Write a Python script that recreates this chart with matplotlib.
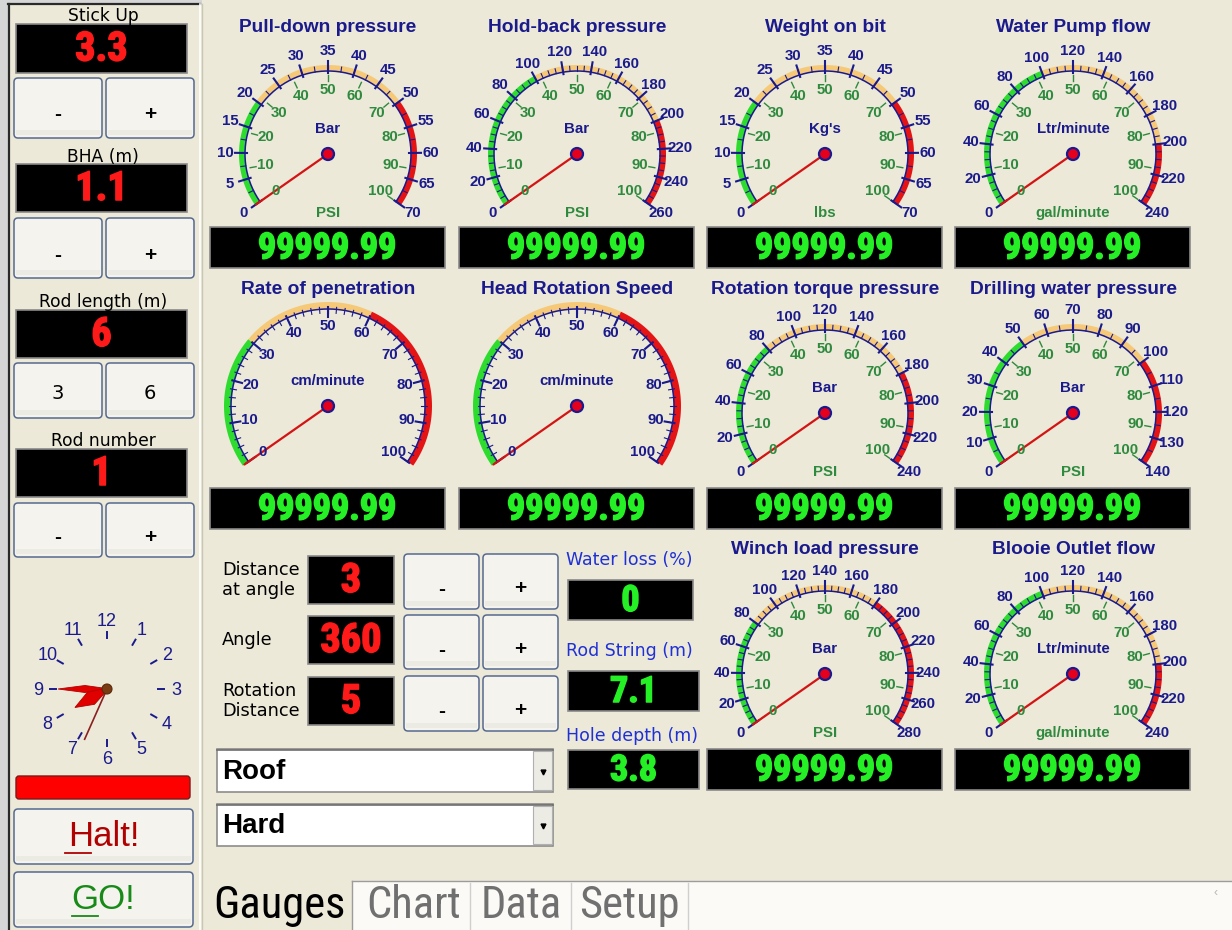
import numpy as np
import matplotlib
matplotlib.use("Agg")
import matplotlib.pyplot as plt
import matplotlib.patheffects as pe
from matplotlib.patches import Rectangle, FancyBboxPatch, Polygon, Circle
from matplotlib import font_manager

# ------------------------------------------------------------------ data
gauge_titles = ["Pull-down pressure", "Hold-back pressure", "Weight on bit", "Water Pump flow",
                "Rate of penetration", "Head Rotation Speed", "Rotation torque pressure",
                "Drilling water pressure", "Winch load pressure", "Blooie Outlet flow"]
gauge_outer_max = [70, 260, 70, 240, 100, 100, 240, 140, 280, 240]
gauge_label_step = [5, 20, 5, 20, 10, 10, 20, 10, 20, 20]
gauge_minor_step = [2.5, 5, 2.5, 5, 2, 2, 5, 5, 5, 5]
gauge_inner_max = [100, 100, 100, 100, 0, 0, 100, 100, 100, 100]
gauge_inner_step = [10, 10, 10, 10, 0, 0, 10, 10, 10, 10]
gauge_outer_unit = ["Bar", "Bar", "Kg's", "Ltr/minute", "cm/minute", "cm/minute",
                    "Bar", "Bar", "Bar", "Ltr/minute"]
gauge_inner_unit = ["PSI", "PSI", "lbs", "gal/minute", "", "", "PSI", "PSI", "PSI", "gal/minute"]
gauge_green_end = [20, 100, 20, 100, 30, 30, 80, 50, 80, 100]
gauge_orange_end = [50, 200, 50, 200, 60, 60, 180, 100, 180, 200]
gauge_needle = [0, 0, 0, 0, 0, 0, 0, 0, 0, 0]
gauge_readout = ["99999.99"] * 10

panel_labels = ["Stick Up", "BHA (m)", "Rod length (m)", "Rod number"]
panel_values = ["3.3", "1.1", "6", "1"]
panel_buttons = [["-", "+"], ["-", "+"], ["3", "6"], ["-", "+"]]

setting_labels = ["Distance\nat angle", "Angle", "Rotation\nDistance"]
setting_values = ["3", "360", "5"]

status_labels = ["Water loss (%)", "Rod String (m)", "Hole depth (m)"]
status_values = ["0", "7.1", "3.8"]

dropdown_values = ["Roof", "Hard"]
tab_labels = ["Gauges", "Chart", "Data", "Setup"]

clock_numerals = list(range(1, 13))
clock_hour_hand = 8.0
clock_minute = 45
clock_second = 34

# ------------------------------------------------------------------ style
W, H = 1232, 930
BG = "#ECE9D8"
NAVY = "#1A1A8C"
GLBL = "#2E8A3E"
BAND_G = "#2EDC2E"
BAND_O = "#F6C978"
BAND_R = "#E51414"
READ_G = "#25F025"
READ_R = "#FF1A1A"
BLUE = "#1F30D6"

avail = {f.name for f in font_manager.fontManager.ttflist}


def pick(*names):
    for n in names:
        if n in avail:
            return n
    return "DejaVu Sans"


SANS = pick("Liberation Sans", "Arial", "DejaVu Sans")
NARROW = pick("Liberation Sans Narrow", "Roboto Condensed", "DejaVu Sans Condensed",
              "Open Sans Condensed", "Liberation Sans")
UI = "DejaVu Sans"
plt.rcParams["font.family"] = [SANS, "DejaVu Sans"]

fig = plt.figure(figsize=(W / 100, H / 100), dpi=100)
fig.patch.set_facecolor(BG)
ax = fig.add_axes([0, 0, 1, 1])
ax.set_xlim(0, W)
ax.set_ylim(H, 0)
ax.axis("off")
ax.set_facecolor(BG)


def T(x, y, s, size, color="black", weight="normal", ha="center", va="center", family=None, **kw):
    fam = family if family else [SANS, "DejaVu Sans"]
    ax.text(x, y, s, fontsize=size, color=color, fontweight=weight, ha=ha, va=va,
            family=fam, **kw)


def readout(x0, y0, x1, y1, s, color, size):
    ax.add_patch(Rectangle((x0, y0), x1 - x0, y1 - y0, fc="black", ec="#8A8A8A", lw=1.2))
    T((x0 + x1) / 2, (y0 + y1) / 2 + 1, s, size, color, "bold", family=[NARROW, "DejaVu Sans"],
      path_effects=[pe.withStroke(linewidth=1.1, foreground=color)])


def button(x0, y0, x1, y1, s, size=15, color="black", weight="bold", dy=6, family=None):
    ax.add_patch(FancyBboxPatch((x0 + 2, y0 + 2), x1 - x0 - 4, y1 - y0 - 4,
                                boxstyle="round,pad=2,rounding_size=4",
                                fc="#F4F3EE", ec="#56698F", lw=1.1))
    ax.add_patch(Rectangle((x0 + 2, y1 - 8), x1 - x0 - 4, 5, fc="#EBEAE3", ec="none"))
    T((x0 + x1) / 2, (y0 + y1) / 2 + dy, s, size, color, weight, family=family)


# ------------------------------------------------------------------ frame
ax.add_patch(Rectangle((0, 0), 8, H, fc="#D6D6D6", ec="none"))
ax.add_patch(Rectangle((0, 0), 202, 4, fc="#D6D6D6", ec="none"))
ax.plot([8.5, 8.5], [4, H], color="#2A2A2A", lw=1.6)
ax.plot([8, 200], [4.5, 4.5], color="#2A2A2A", lw=1.6)
ax.plot([200, 200], [4, H], color="#FFFFFF", lw=1.2)
ax.plot([201.5, 201.5], [4, H], color="#C9C6B6", lw=1.0)

# ------------------------------------------------------------------ gauges
START, SWEEP = 215.0, 250.0
gauge_layout = [(328, 154, False), (577, 154, False), (825, 154, False), (1073, 154, False),
                (328, 406, True), (577, 406, True), (825, 413, False), (1073, 413, False),
                (825, 674, False), (1073, 674, False)]
title_y = [28, 28, 28, 28, 289, 289, 289, 289, 549, 549]
box_top = [227, 227, 227, 227, 488, 488, 488, 488, 749, 749]


def draw_gauge(i):
    cx, cy, big = gauge_layout[i]
    vmax = gauge_outer_max[i]
    R = 97 if big else 83
    bw = 7 if big else 6

    def pt(v, r, vm=vmax):
        a = np.radians(START - SWEEP * v / vm)
        return cx + r * np.cos(a), cy - r * np.sin(a)

    T(cx, title_y[i], gauge_titles[i], 13.8, NAVY, "bold")

    zones = [(0, gauge_green_end[i], BAND_G),
             (gauge_green_end[i], gauge_orange_end[i], BAND_O),
             (gauge_orange_end[i], vmax, BAND_R)]
    for v0, v1, col in zones:
        vs = np.linspace(v0, v1, 80)
        poly = [pt(v, R + bw) for v in vs] + [pt(v, R) for v in vs[::-1]]
        ax.add_patch(Polygon(poly, closed=True, fc=col, ec="none"))

    vs = np.linspace(0, vmax, 300)
    xs, ys = zip(*[pt(v, R) for v in vs])
    ax.plot(xs, ys, color=NAVY, lw=1.1)

    for v in np.arange(0, vmax + 1e-9, gauge_minor_step[i]):
        if big:
            p0, p1 = pt(v, R - 4), pt(v, R + 2)
        else:
            p0, p1 = pt(v, R), pt(v, R + 5)
        ax.plot([p0[0], p1[0]], [p0[1], p1[1]], color=NAVY, lw=0.8)
    for v in np.arange(0, vmax + 1e-9, gauge_label_step[i]):
        if big:
            p0, p1 = pt(v, R - 8), pt(v, R + 2)
            lp = pt(v, R - 17)
        else:
            p0, p1 = pt(v, R - 2), pt(v, R + 10)
            lp = pt(v, R + 20)
        ax.plot([p0[0], p1[0]], [p0[1], p1[1]], color=NAVY, lw=1.5)
        T(lp[0], lp[1], f"{v:g}", 10.8, NAVY, "bold")

    imax = gauge_inner_max[i]
    if imax:
        for v in np.arange(0, imax + 1e-9, gauge_inner_step[i]):
            p0, p1 = pt(v, R - 10, imax), pt(v, R - 4, imax)
            ax.plot([p0[0], p1[0]], [p0[1], p1[1]], color=GLBL, lw=1.0)
            lp = pt(v, R - 19, imax)
            T(lp[0], lp[1], f"{v:g}", 10.8, GLBL, "bold")
        T(cx, cy + 59, gauge_inner_unit[i], 10.8, GLBL, "bold")
    T(cx, cy - 25, gauge_outer_unit[i], 10.8, NAVY, "bold")

    tip = pt(gauge_needle[i], R + 5)
    ax.plot([cx, tip[0]], [cy, tip[1]], color="#D41414", lw=1.6, solid_capstyle="round")
    ax.add_patch(Circle((cx, cy), 6, fc="#E4001C", ec=NAVY, lw=1.6, zorder=5))

    y0 = box_top[i]
    readout(cx - 118, y0, cx + 117, y0 + 41, gauge_readout[i], READ_G, 26)


for i in range(len(gauge_titles)):
    draw_gauge(i)

# ------------------------------------------------------------------ left panel
lbl_y = [16, 157, 302, 441]
box_y = [(24, 73), (164, 212), (310, 358), (449, 497)]
btn_y = [(78, 138), (218, 278), (363, 418), (503, 557)]
for k in range(len(panel_labels)):
    T(103, lbl_y[k], panel_labels[k], 12.3, "black", family=[UI])
    readout(16, box_y[k][0], 187, box_y[k][1], panel_values[k], READ_R, 29)
    y0, y1 = btn_y[k]
    is_num = panel_buttons[k][0].isdigit()
    for j, (bx0, bx1) in enumerate([(14, 102), (106, 194)]):
        button(bx0, y0, bx1, y1, panel_buttons[k][j], 14 if is_num else 15,
               weight="normal" if is_num else "bold", dy=3 if is_num else 7,
               family=[UI] if is_num else None)

# clock
ccx, ccy = 107, 689
for n in clock_numerals:
    a = np.radians(n * 30)
    T(ccx + 69 * np.sin(a), ccy - 69 * np.cos(a) + 1, str(n), 13, NAVY)
    ax.plot([ccx + 51 * np.sin(a), ccx + 57 * np.sin(a)],
            [ccy - 51 * np.cos(a), ccy - 57 * np.cos(a)], color=NAVY, lw=1.4)


def hand(angle_deg, length, width, frac):
    a = np.radians(angle_deg)
    d = np.array([np.sin(a), -np.cos(a)])
    p = np.array([np.cos(a), np.sin(a)])
    c = np.array([ccx, ccy])
    pts = [c + length * d, c + frac * length * d + width * p, c - 3 * d,
           c + frac * length * d - width * p]
    ax.add_patch(Polygon(pts, closed=True, fc="#E00000", ec="#B00000", lw=0.6, zorder=4))


hand(clock_minute * 6, 49, 3.5, 0.45)
hand(clock_hour_hand * 30, 37, 7, 0.5)
sa = np.radians(clock_second * 6)
ax.plot([ccx, ccx + 55 * np.sin(sa)], [ccy, ccy - 55 * np.cos(sa)], color="#8A2020", lw=1.2, zorder=5)
ax.add_patch(Circle((ccx, ccy), 5, fc="#7A3A12", ec="#5A2A0A", lw=0.8, zorder=6))

ax.add_patch(FancyBboxPatch((17, 777), 172, 21, boxstyle="round,pad=1,rounding_size=3",
                            fc="#FF0000", ec="#7A1A1A", lw=1.0))
button(14, 809, 193, 864, "Halt!", 25, "#B00000", "normal", dy=0)
ax.plot([65, 91], [853, 853], color="#B00000", lw=1.3)
button(14, 872, 193, 927, "GO!", 25, "#178A17", "normal", dy=0)
ax.plot([72, 98], [916, 916], color="#178A17", lw=1.3)

# ------------------------------------------------------------------ middle controls
set_box_y = [(556, 604), (616, 664), (677, 725)]
set_btn_y = [(554, 609), (615, 669), (676, 731)]
for k in range(len(setting_labels)):
    y0, y1 = set_box_y[k]
    T(222, (y0 + y1) / 2, setting_labels[k], 12.8, "black", ha="left", linespacing=1.15,
      family=[UI])
    readout(308, y0, 394, y1, setting_values[k], READ_R, 29)
    b0, b1 = set_btn_y[k]
    button(404, b0, 479, b1, "-", 15, dy=8)
    button(483, b0, 558, b1, "+", 15, dy=7)

stat_lbl_y = [560, 651, 736]
stat_box = [(568, 693, 580, 620), (568, 699, 671, 711), (568, 699, 750, 789)]
for k in range(len(status_labels)):
    T(566, stat_lbl_y[k], status_labels[k], 12.5, BLUE, ha="left", family=[UI])
    x0, x1, y0, y1 = stat_box[k]
    readout(x0, y0, x1, y1, status_values[k], READ_G, 26)

dd_y = [(749, 792), (804, 846)]
for k in range(len(dropdown_values)):
    y0, y1 = dd_y[k]
    ax.add_patch(Rectangle((217, y0), 336, y1 - y0, fc="white", ec="#8C8C8C", lw=1.2))
    ax.plot([217, 553], [y0 + 1, y0 + 1], color="#6E6E6E", lw=1.2)
    ax.add_patch(Rectangle((533, y0 + 2), 19, y1 - y0 - 4, fc="#ECEBE4", ec="#B0B0B0", lw=0.8))
    ax.plot([543], [(y0 + y1) / 2 + 1], marker="v", color="black", ms=3.5)
    T(222, (y0 + y1) / 2 + 1, dropdown_values[k], 20, "black", "bold", ha="left")

# ------------------------------------------------------------------ tabs
ax.add_patch(Rectangle((352, 881), W - 352, H - 881, fc="#FBFAF6", ec="none"))
ax.plot([352, W], [881, 881], color="#9C9C9C", lw=1.0)
ax.plot([352, 352], [881, H], color="#9C9C9C", lw=1.0)
tab_x = [213, 366, 481, 579]
sep_x = [470, 571, 688]
for sx in sep_x:
    ax.plot([sx, sx], [883, H], color="#CFCFCF", lw=1.0)
for k, t in enumerate(tab_labels):
    T(tab_x[k], 906, t, 32, "black" if k == 0 else "#707070", ha="left",
      family=[NARROW, "DejaVu Sans"])
T(1216, 893, "\u2039", 9, "#B8B8B8")

fig.savefig("out.png", dpi=100, facecolor=BG)
